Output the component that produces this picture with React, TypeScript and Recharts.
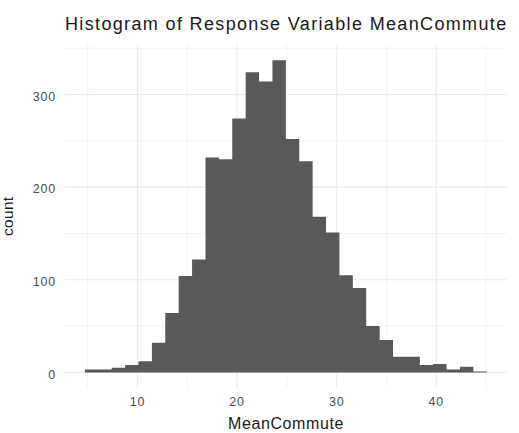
import React from 'react';
import { ComposedChart, Area, XAxis, YAxis, CartesianGrid, Label } from 'recharts';

// Histogram of MeanCommute, 30 bins
const binCounts = [3, 3, 5, 8, 12, 32, 64, 104, 122, 232, 230, 274, 324, 314, 337, 252, 228, 168, 151, 105, 91, 50, 35, 17, 17, 8, 9, 3, 6, 1];
const binStart = 4.72;
const binWidth = 1.345;
const xMajorTicks = [10, 20, 30, 40];
const xMinorTicks = [5, 15, 25, 35, 45];
const yMajorTicks = [0, 100, 200, 300];
const yMinorTicks = [50, 150, 250, 350];

const data = [
  ...binCounts.map((c, i) => ({ x: binStart + i * binWidth, count: c })),
  { x: binStart + binCounts.length * binWidth, count: binCounts[binCounts.length - 1] },
];

const FONT = '"Liberation Sans", Arial, Helvetica, sans-serif';

export default function App() {
  return (
    <div style={{ position: 'absolute', left: 0, top: 0, width: 519, height: 433, fontFamily: FONT }}>
      <div
        style={{
          position: 'absolute',
          left: 65,
          top: 14.6,
          fontSize: 18,
          lineHeight: '18px',
          letterSpacing: 1.35,
          color: '#1a1a1a',
          whiteSpace: 'nowrap',
        }}
      >
        Histogram of Response Variable MeanCommute
      </div>
      <ComposedChart
        width={519}
        height={433}
        data={data}
        margin={{ top: 44.6, right: 12, left: 15, bottom: 0 }}
        style={{ fontFamily: FONT }}
      >
        <CartesianGrid
          stroke="#EBEBEB"
          strokeWidth={0.6}
          horizontalValues={yMinorTicks}
          verticalValues={xMinorTicks}
        />
        <CartesianGrid
          stroke="#EBEBEB"
          strokeWidth={1.1}
          horizontalValues={yMajorTicks}
          verticalValues={xMajorTicks}
        />
        <XAxis
          type="number"
          dataKey="x"
          domain={[2.72, 47.1]}
          allowDataOverflow
          ticks={xMajorTicks}
          tickLine={false}
          axisLine={false}
          tickSize={0}
          tickMargin={8.8}
          height={45}
          tick={{ fill: '#4D4D4D', fontSize: 12.5, letterSpacing: 0.8 }}
        >
          <Label
            value="MeanCommute"
            position="insideBottom"
            offset={4.5}
            style={{ fill: '#1a1a1a', fontSize: 16, letterSpacing: 0.6 }}
          />
        </XAxis>
        <YAxis
          type="number"
          domain={[-16.85, 353.9]}
          allowDataOverflow
          ticks={yMajorTicks}
          tickLine={false}
          axisLine={false}
          tickSize={0}
          tickMargin={9}
          width={50}
          tick={{ fill: '#4D4D4D', fontSize: 12.5, letterSpacing: 0.8, dy: 1.7 }}
        >
          <Label
            content={(props: any) => {
              const vb = props.viewBox || {};
              const cx = 13.3;
              const cy = (vb.y ?? 0) + (vb.height ?? 0) / 2;
              return (
                <text
                  x={cx}
                  y={cy}
                  transform={`rotate(-90, ${cx}, ${cy})`}
                  textAnchor="middle"
                  fill="#1a1a1a"
                  fontSize={15.5}
                  letterSpacing={0.3}
                  fontFamily={FONT}
                >
                  count
                </text>
              );
            }}
          />
        </YAxis>
        <Area
          type="stepAfter"
          dataKey="count"
          stroke="none"
          fill="#595959"
          fillOpacity={1}
          baseValue={0}
          isAnimationActive={false}
          dot={false}
          activeDot={false}
        />
      </ComposedChart>
    </div>
  );
}
